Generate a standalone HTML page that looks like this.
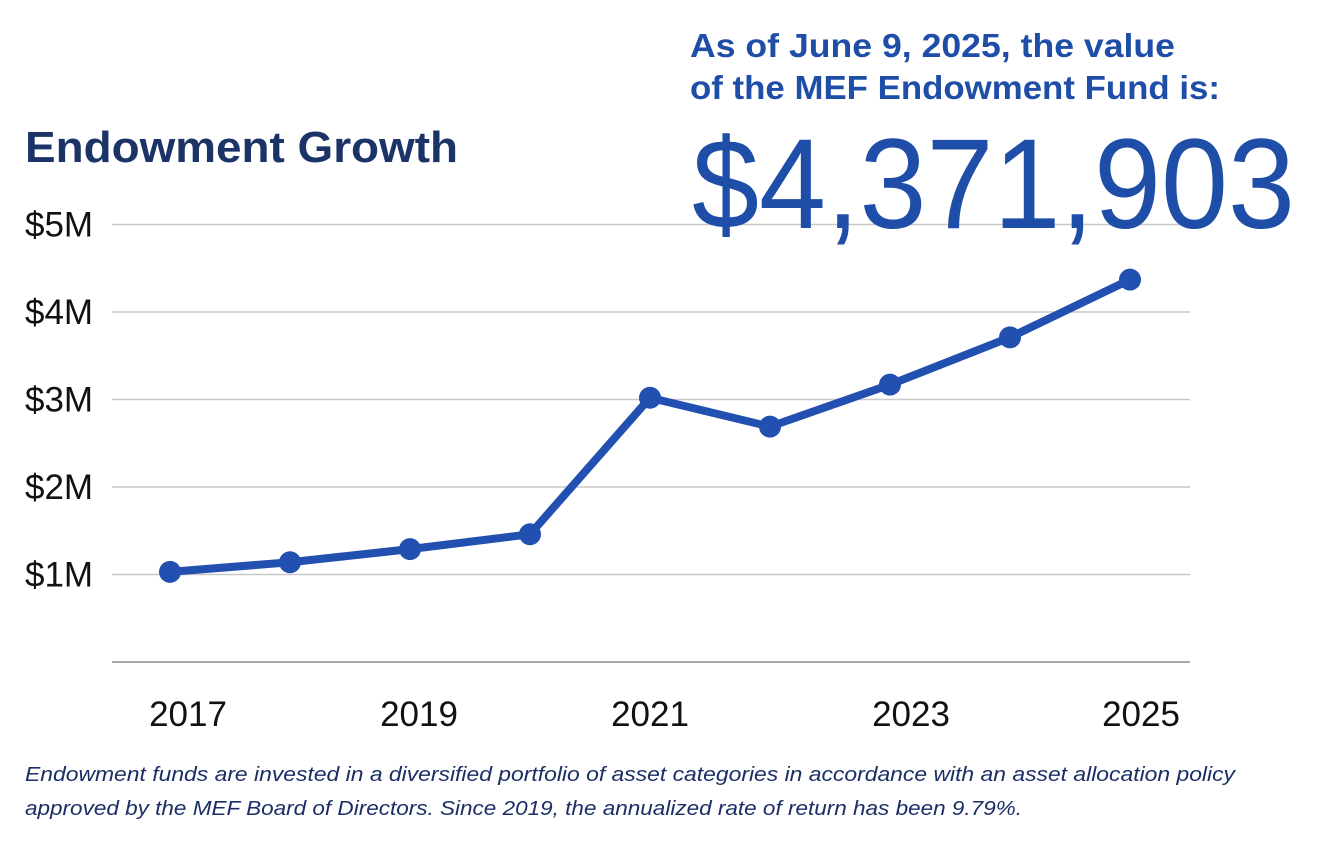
<!DOCTYPE html>
<html><head><meta charset="utf-8"><style>
html,body{margin:0;padding:0;background:#fff;}
svg{display:block;}
text{font-family:"Liberation Sans",sans-serif;}
</style></head><body>
<svg id="chart" width="1322" height="852" viewBox="0 0 1322 852">
<text x="25" y="162" font-size="44" font-weight="bold" fill="#1b3366" textLength="433" lengthAdjust="spacingAndGlyphs">Endowment Growth</text>
<text x="690" y="57" font-size="33" font-weight="bold" fill="#1f4ea8" textLength="485" lengthAdjust="spacingAndGlyphs">As of June 9, 2025, the value</text>
<text x="690" y="99" font-size="33" font-weight="bold" fill="#1f4ea8" textLength="530" lengthAdjust="spacingAndGlyphs">of the MEF Endowment Fund is:</text>
<g id="grid"></g>
<g id="yticks"></g>
<g id="xticks"></g>
<g id="series"></g>
<text x="692" y="228" font-size="128" fill="#1f4ea8" textLength="603" lengthAdjust="spacingAndGlyphs">$4,371,903</text>
<text x="25" y="781" font-size="20" font-style="italic" fill="#1b2f66" textLength="1210" lengthAdjust="spacingAndGlyphs">Endowment funds are invested in a diversified portfolio of asset categories in accordance with an asset allocation policy</text>
<text x="25" y="815" font-size="20" font-style="italic" fill="#1b2f66" textLength="997" lengthAdjust="spacingAndGlyphs">approved by the MEF Board of Directors. Since 2019, the annualized rate of return has been 9.79%.</text>
</svg>
<script>
const years = [2017,2018,2019,2020,2021,2022,2023,2024,2025];
const values = [1.03,1.14,1.29,1.46,3.02,2.69,3.17,3.71,4.37];
const yTicks = [0,1,2,3,4,5];
const yTickLabels = ["","$1M","$2M","$3M","$4M","$5M"];
const xTickLabels = ["2017","2019","2021","2023","2025"];

const NS="http://www.w3.org/2000/svg";
const x = y => 170 + (y-2017)*120;
const yS = v => 662 - v*87.5;
function mk(tag, attrs, parent){const e=document.createElementNS(NS,tag);for(const k in attrs)e.setAttribute(k,attrs[k]);parent.appendChild(e);return e;}
const grid=document.getElementById('grid'), yt=document.getElementById('yticks'), xt=document.getElementById('xticks'), ser=document.getElementById('series');
yTicks.forEach((t,i)=>{
  const l=mk('line',{x1:112,x2:1190,y1:yS(t),y2:yS(t),stroke:t===0?'#aaaaaa':'#c8c8c8','stroke-width':t===0?2:1.5},grid);
  
  
  if(yTickLabels[i]){
    const tx=mk('text',{x:25,y:yS(t)+12,'font-size':35,fill:'#111'},yt);
    tx.textContent=yTickLabels[i];
    
    
  }
});
xTickLabels.forEach(lab=>{
  const yr=+lab;
  const tx=mk('text',{x:x(yr)+(yr===2017?18:yr===2019?9:yr===2023?21:yr===2025?11:0),y:726,'font-size':35,fill:'#111','text-anchor':'middle'},xt);
  tx.textContent=lab;
  
  
});
const pts=years.map((yr,i)=>x(yr)+','+yS(values[i])).join(' ');
const pl=mk('polyline',{points:pts,fill:'none',stroke:'#2250b0','stroke-width':8,'stroke-linejoin':'round'},ser);


years.forEach((yr,i)=>{
  const c=mk('circle',{cx:x(yr),cy:yS(values[i]),r:11,fill:'#2250b0'},ser);
  
  
});
</script>
</body></html>
